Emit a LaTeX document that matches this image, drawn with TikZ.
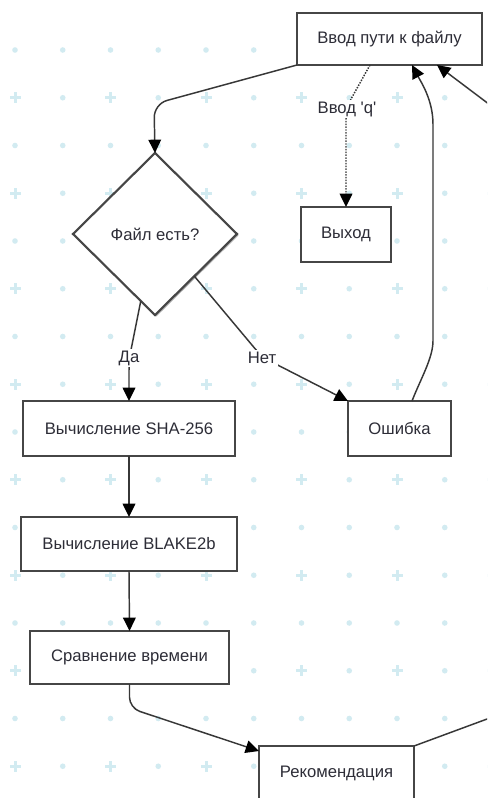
\documentclass[tikz,border=0pt]{standalone}
\usepackage{fontspec}
\setmainfont{Liberation Sans}[Ligatures=TeXOff]
\usetikzlibrary{arrows.meta,calc,shapes.geometric,shadows}
\definecolor{gridc}{RGB}{210,235,241}
\definecolor{linec}{RGB}{55,55,55}
\definecolor{boxc}{RGB}{70,70,70}
\definecolor{txt}{RGB}{45,45,55}
\begin{document}
\begin{tikzpicture}[x=0.75pt,y=-0.75pt,
  box/.style={draw=boxc, line width=1.6pt, fill=white, inner sep=0pt, outer sep=0pt,
    font=\fontsize{12.5}{15}\selectfont, text=txt,
    drop shadow={shadow xshift=1.1pt, shadow yshift=-1.1pt, opacity=0.3, fill=black}},
  conn/.style={draw=linec, line width=1.1pt, rounded corners=8pt,
    -{Triangle[length=10pt,width=9.5pt,color=black]}},
  elabel/.style={fill=white, inner sep=1.5pt, font=\fontsize{12.5}{15}\selectfont, text=txt}]
\useasboundingbox (0,0) rectangle (487,798);
\clip (0,0) rectangle (487,798);
\fill[white] (0,0) rectangle (487,798);
% background grid
\foreach \i in {0,...,10}{
  \foreach \j in {0,...,15}{
    \pgfmathsetmacro\gx{15+47.75*\i}
    \pgfmathsetmacro\gy{50+47.75*\j}
    \pgfmathtruncatemacro\isplus{(mod(\i,2)==0 && mod(\j,2)==1) ? 1 : 0}
    \ifnum\isplus=1
      \fill[gridc] (\gx-5.5,\gy-1.5) rectangle (\gx+5.5,\gy+1.5);
      \fill[gridc] (\gx-1.5,\gy-5.5) rectangle (\gx+1.5,\gy+5.5);
    \else
      \fill[gridc] (\gx,\gy) circle (2.1pt);
    \fi
  }
}
% nodes
\node[box, minimum width=185*0.75pt, minimum height=52*0.75pt] (in) at (389.5,39) {Ввод пути к файлу};
\node[box, diamond, minimum width=164*0.75pt, minimum height=162*0.75pt] (dec) at (155,234) {Файл есть?};
\node[box, minimum width=90*0.75pt, minimum height=55*0.75pt] (ex) at (346,234.5) {Выход};
\node[box, minimum width=103*0.75pt, minimum height=55*0.75pt] (err) at (399.5,428.5) {Ошибка};
\node[box, minimum width=212*0.75pt, minimum height=55*0.75pt] (sha) at (129,428.5) {Вычисление SHA-256};
\node[box, minimum width=216*0.75pt, minimum height=54*0.75pt] (blake) at (129,544) {Вычисление BLAKE2b};
\node[box, minimum width=199*0.75pt, minimum height=53*0.75pt] (cmp) at (129.5,657.5) {Сравнение времени};
\node[box, minimum width=155*0.75pt, minimum height=54*0.75pt] (rec) at (336.5,773) {Рекомендация};
% connectors
\draw[conn, rounded corners=10pt] (in.south west) -- (154,104) -- (dec.north);
\draw[conn, densely dotted] ($(in.south)+(-19.5,0)$) -- (346,108) -- (ex.north);
\node[elabel] (lq) at (347,109) {Ввод 'q'};
\draw[conn] ($(err.north)+(12.5,0)$) .. controls (421,378) and (433,358) .. (433,330)
   -- (433,135) .. controls (433,100) and (421,82) .. ($(in.south)+(22.5,0)$);
\draw[conn, rounded corners=6pt] (rec.north east) -- (506,712) -- (506,117) -- ($(in.south)+(47.5,0)$);
\draw[conn] (dec.258) -- (129,360) -- (sha.north);
\node[elabel] (lyes) at (129,358) {Да};
\draw[conn] (dec.313) -- (262,357) -- (err.north west);
\node[elabel] (lno) at (262,358) {Нет};
\draw[conn] (sha.south) -- (blake.north);
\draw[conn] (blake.south) -- (cmp.north);
\draw[conn] (cmp.south) -- (129.5,708) -- ($(rec.north west)+(0,5)$);
\end{tikzpicture}
\end{document}
